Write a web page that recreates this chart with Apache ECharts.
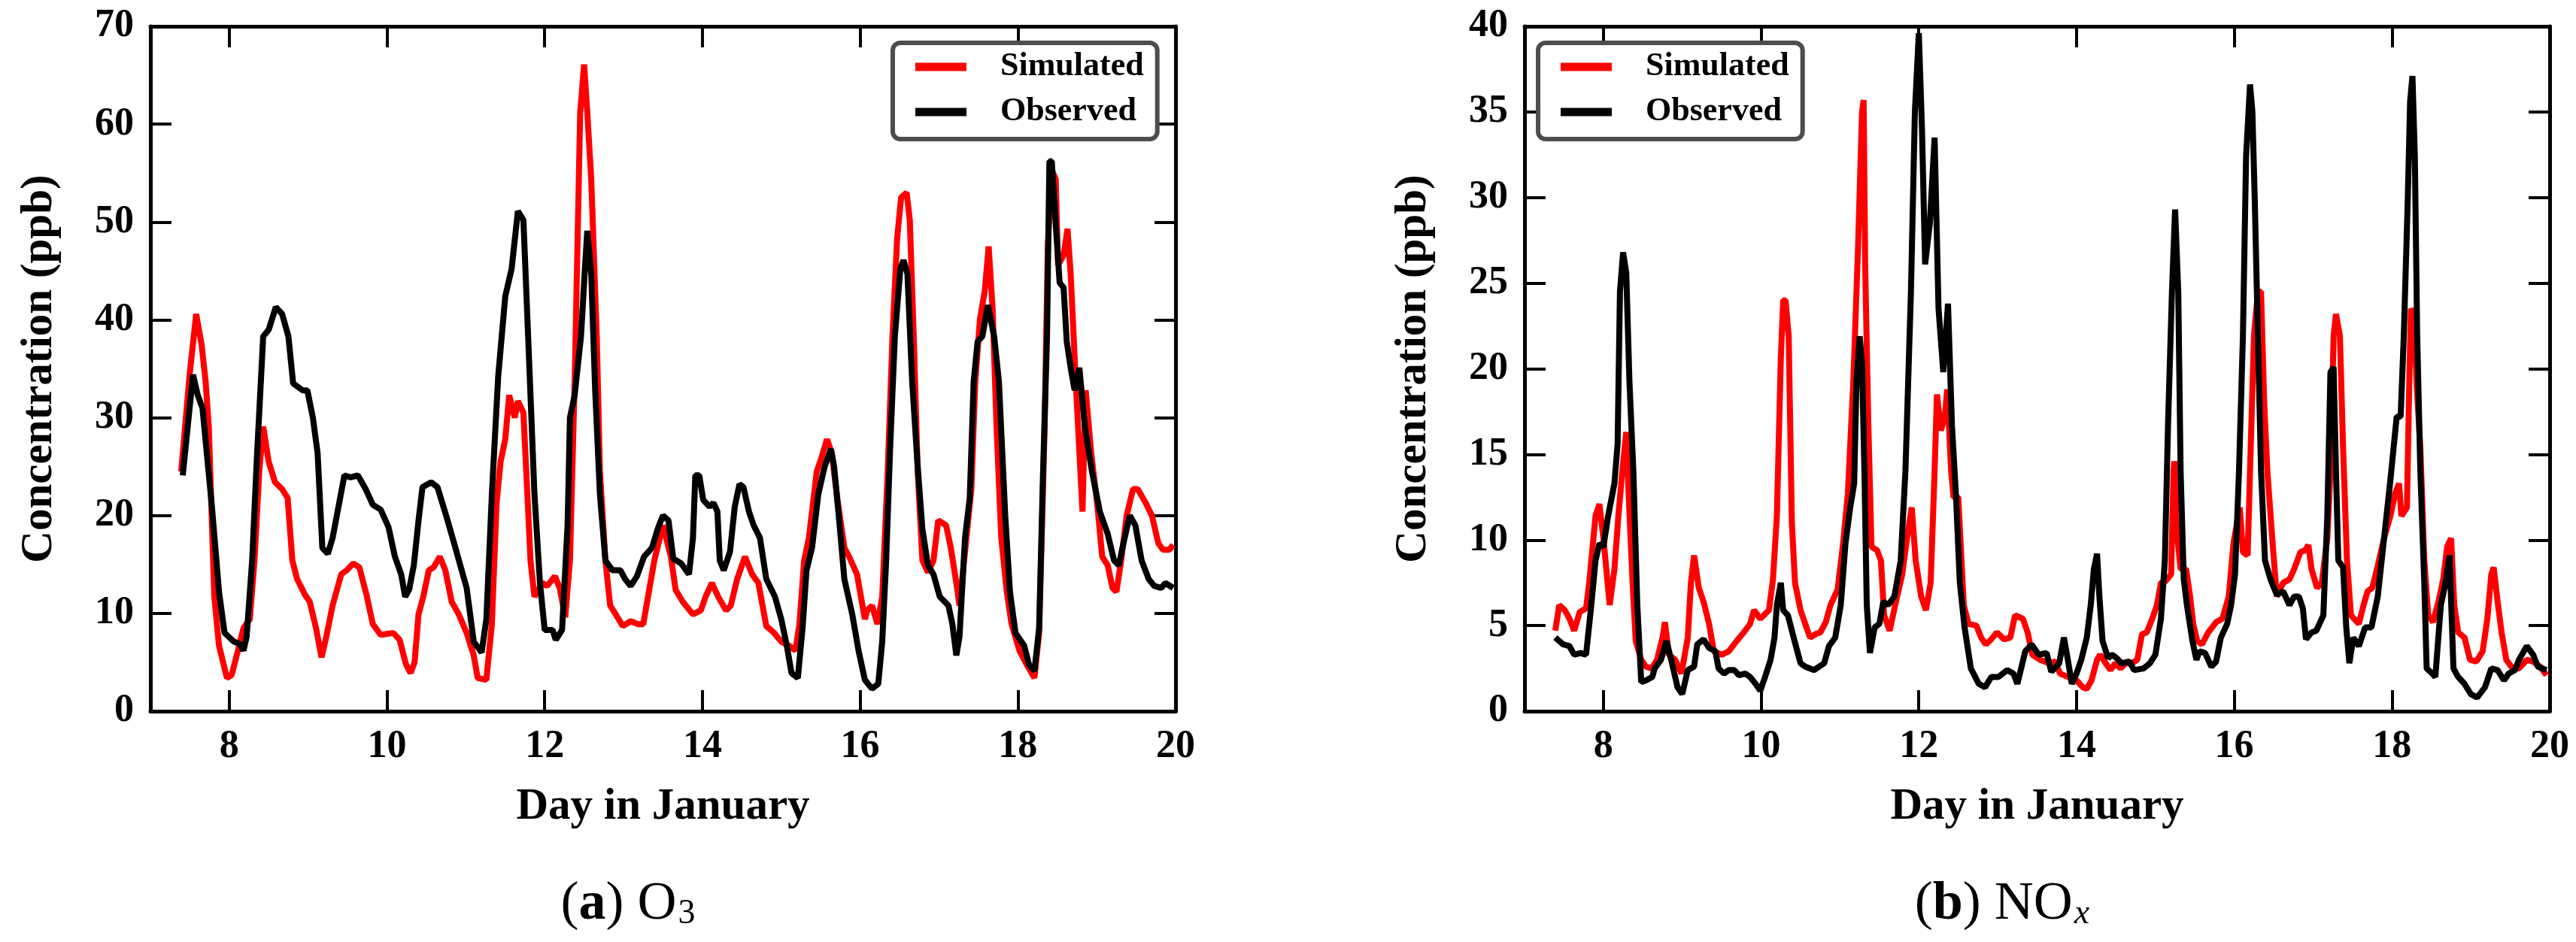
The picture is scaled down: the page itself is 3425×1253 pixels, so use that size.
<!DOCTYPE html>
<html>
<head>
<meta charset="utf-8">
<script src="https://cdn.jsdelivr.net/npm/echarts@6/dist/echarts.min.js"></script>
<style>
  html, body { margin: 0; padding: 0; background: #fff; }
  #main { width: 3425px; height: 1253px; }
</style>
</head>
<body>
<div id="main"></div>
<script>
// day in January, concentration (ppb)
var o3Sim = [[7.39,24.5],[7.50,34.6],[7.58,40.6],[7.65,37.4],[7.70,33.7],[7.74,29.1],[7.81,11.7],[7.87,6.7],[7.97,3.4],[8.03,3.7],[8.11,6.2],[8.18,8.5],[8.26,9.4],[8.32,15.4],[8.38,24.5],[8.43,29.1],[8.50,25.5],[8.58,23.4],[8.67,22.7],[8.74,21.8],[8.80,15.4],[8.86,13.5],[8.96,11.9],[9.02,11.2],[9.10,8.5],[9.17,5.5],[9.23,7.6],[9.31,10.8],[9.42,14],[9.49,14.4],[9.57,15.1],[9.65,14.7],[9.74,11.9],[9.82,8.9],[9.92,7.8],[10.08,8.0],[10.16,7.3],[10.24,4.8],[10.30,3.9],[10.35,5.0],[10.40,9.9],[10.46,11.7],[10.53,14.4],[10.59,14.7],[10.67,15.8],[10.74,14.4],[10.82,11.2],[10.91,9.9],[11.01,8.0],[11.10,5.7],[11.15,3.4],[11.26,3.2],[11.33,8.9],[11.39,21.3],[11.44,25.5],[11.50,27.8],[11.55,32.3],[11.62,30],[11.66,31.7],[11.73,30.5],[11.78,22.2],[11.82,15.4],[11.87,11.7],[11.97,13.1],[12.03,12.8],[12.13,13.8],[12.19,12.6],[12.26,9.6],[12.32,15.4],[12.38,33.7],[12.45,61.2],[12.50,66.1],[12.54,61.2],[12.59,54.4],[12.66,38.3],[12.70,24.5],[12.77,15.4],[12.83,10.8],[12.90,9.9],[12.99,8.7],[13.09,9.2],[13.18,8.9],[13.25,8.9],[13.31,11.7],[13.39,15.4],[13.50,19],[13.60,15.8],[13.66,12.4],[13.75,11.2],[13.88,9.9],[13.98,10.3],[14.04,11.7],[14.12,13.1],[14.20,11.7],[14.30,10.3],[14.36,10.8],[14.44,13.5],[14.54,15.8],[14.63,14],[14.71,13.1],[14.81,8.7],[14.91,8.0],[15.00,7.1],[15.10,6.7],[15.18,6.2],[15.23,8.9],[15.29,15.4],[15.35,17.7],[15.45,24.5],[15.51,25.9],[15.58,27.8],[15.64,26.4],[15.71,21.8],[15.80,16.7],[15.86,15.8],[15.96,14],[16.06,9.4],[16.09,10.3],[16.15,10.8],[16.22,8.9],[16.28,11.7],[16.35,24.5],[16.41,38.3],[16.47,48.4],[16.52,52.5],[16.59,53],[16.63,50.2],[16.68,38.3],[16.73,24.5],[16.79,15.4],[16.86,14.2],[16.93,15.4],[16.99,19.5],[17.09,19],[17.15,16.7],[17.22,13.1],[17.26,10.8],[17.33,16.3],[17.41,22.7],[17.46,33.7],[17.52,40.1],[17.58,42.9],[17.63,47.5],[17.68,41.1],[17.73,29.1],[17.79,17.7],[17.86,12.2],[17.92,8.9],[18.02,6.2],[18.11,4.8],[18.21,3.4],[18.27,8.0],[18.34,29.1],[18.38,47.5],[18.43,55.3],[18.48,54.4],[18.51,45.6],[18.58,46.6],[18.63,49.3],[18.67,44.7],[18.74,32.8],[18.82,20.4],[18.86,32.8],[18.93,26.4],[19.01,20.9],[19.07,15.8],[19.14,14.9],[19.20,12.6],[19.25,12.2],[19.31,15.4],[19.38,20],[19.46,22.7],[19.52,22.7],[19.62,21.3],[19.70,20],[19.78,17.2],[19.84,16.5],[19.92,16.5],[19.97,17]];

var o3Obs = [[7.41,24.1],[7.54,34.4],[7.60,32.3],[7.66,31],[7.78,20.9],[7.87,12.2],[7.94,8.0],[8.06,7.1],[8.13,6.9],[8.18,6.2],[8.22,7.6],[8.29,15.4],[8.35,25.9],[8.43,38.3],[8.50,39],[8.59,41.3],[8.67,40.6],[8.75,38.3],[8.81,33.5],[8.93,32.8],[8.99,32.8],[9.06,30],[9.12,26.4],[9.18,16.7],[9.25,16.1],[9.31,17.7],[9.46,24.1],[9.54,23.9],[9.63,24.1],[9.73,22.7],[9.82,21.1],[9.92,20.6],[10.02,18.8],[10.10,15.8],[10.18,14],[10.23,11.7],[10.28,12.4],[10.34,14.9],[10.40,19.5],[10.45,22.9],[10.56,23.4],[10.64,22.9],[10.75,20],[10.85,17.2],[10.93,14.9],[11.01,12.6],[11.10,7.1],[11.20,6.0],[11.26,9.4],[11.33,22.2],[11.41,34.2],[11.50,42.4],[11.58,45.2],[11.66,51.1],[11.73,50.2],[11.79,38.3],[11.87,22.2],[11.94,13.1],[12.00,8.3],[12.10,8.3],[12.14,7.3],[12.22,8.3],[12.29,19],[12.32,30],[12.38,32.3],[12.46,38.3],[12.51,45.2],[12.54,49.1],[12.59,44.7],[12.64,32.8],[12.70,22.2],[12.77,15.4],[12.86,14.4],[12.96,14.4],[13.02,13.5],[13.09,12.8],[13.17,13.8],[13.26,15.8],[13.36,16.7],[13.44,18.8],[13.50,20],[13.57,19.5],[13.63,15.6],[13.73,15.1],[13.83,14],[13.88,17.7],[13.91,24.1],[13.96,24.1],[14.01,21.6],[14.09,20.9],[14.14,21.3],[14.19,20.4],[14.22,15.4],[14.27,14.4],[14.35,16.3],[14.41,20.9],[14.47,23.2],[14.52,22.9],[14.59,20.4],[14.65,19],[14.73,17.7],[14.81,13.5],[14.92,11.7],[15.00,9.4],[15.07,6.7],[15.13,3.9],[15.21,3.4],[15.27,8.5],[15.32,14.4],[15.39,16.7],[15.47,22.2],[15.55,25],[15.63,26.8],[15.67,25],[15.74,19],[15.80,13.5],[15.90,9.9],[15.98,6.2],[16.06,3.2],[16.15,2.3],[16.23,2.8],[16.28,7.1],[16.33,15.4],[16.38,26.8],[16.44,38.3],[16.51,45.2],[16.55,46.1],[16.60,44.7],[16.66,33.7],[16.73,25],[16.79,18.6],[16.86,14.9],[16.93,14],[17.01,11.7],[17.12,10.8],[17.17,8.9],[17.22,5.7],[17.26,7.6],[17.33,17.7],[17.39,21.8],[17.44,33.7],[17.49,37.8],[17.55,38.3],[17.62,41.5],[17.70,38.3],[17.76,33.7],[17.84,20],[17.90,12.2],[17.97,8.0],[18.08,6.7],[18.14,4.8],[18.21,4.1],[18.27,8.5],[18.32,24.5],[18.37,38.3],[18.40,56.2],[18.43,56.2],[18.48,49.8],[18.53,43.8],[18.58,43.3],[18.62,37.8],[18.67,35.1],[18.72,32.8],[18.78,35.1],[18.85,29.1],[18.94,24.5],[19.04,20.4],[19.14,18.1],[19.22,15.4],[19.28,14.9],[19.34,17.2],[19.42,20],[19.49,19],[19.57,15.4],[19.66,13.5],[19.73,12.8],[19.82,12.6],[19.87,13.1],[19.97,12.6]];

var noxSim = [[7.39,4.7],[7.44,6.2],[7.51,5.9],[7.57,5.4],[7.63,4.7],[7.70,5.8],[7.78,6.0],[7.82,7.5],[7.90,11.4],[7.95,12.1],[8.00,10.1],[8.08,6.2],[8.14,8.3],[8.19,11.4],[8.24,14],[8.29,16.3],[8.32,12.7],[8.37,7.5],[8.41,4.1],[8.48,3.0],[8.54,2.6],[8.61,2.5],[8.68,3.0],[8.75,4.3],[8.78,5.2],[8.83,3.3],[8.91,3.0],[8.99,2.2],[9.07,4.3],[9.11,7.5],[9.15,9.1],[9.21,7.2],[9.27,6.4],[9.34,5.1],[9.40,3.5],[9.50,3.3],[9.59,3.5],[9.69,4.1],[9.78,4.6],[9.86,5.1],[9.91,5.9],[9.99,5.4],[10.10,5.9],[10.15,7.7],[10.20,11.4],[10.25,20.6],[10.28,24],[10.31,24],[10.35,21.9],[10.39,11],[10.43,7.5],[10.50,5.9],[10.56,5.1],[10.62,4.3],[10.69,4.5],[10.75,4.6],[10.82,5.2],[10.88,6.2],[10.97,7.1],[11.04,9.8],[11.10,12.7],[11.17,19.3],[11.23,27.2],[11.28,35],[11.30,35.7],[11.32,25.9],[11.36,16.7],[11.40,9.6],[11.47,9.4],[11.52,8.8],[11.56,5.6],[11.63,4.7],[11.71,6.4],[11.79,8.0],[11.85,10.1],[11.91,11.9],[11.96,8.8],[12.03,6.7],[12.09,5.9],[12.15,7.5],[12.20,14],[12.23,18.5],[12.28,16.4],[12.33,17.2],[12.36,18.8],[12.41,14],[12.44,12.5],[12.50,12.5],[12.57,6.2],[12.63,5.1],[12.73,5.0],[12.79,4.3],[12.85,3.9],[12.92,4.2],[12.99,4.6],[13.08,4.2],[13.16,4.3],[13.22,5.6],[13.32,5.4],[13.38,4.6],[13.44,3.3],[13.54,3.0],[13.65,2.8],[13.73,2.9],[13.79,2.2],[13.89,2.0],[14.00,1.8],[14.08,1.4],[14.13,1.3],[14.19,1.8],[14.26,3.0],[14.30,3.3],[14.37,2.8],[14.43,2.4],[14.49,2.8],[14.56,2.5],[14.62,2.8],[14.70,2.8],[14.77,3.0],[14.83,4.5],[14.89,4.6],[14.96,5.4],[15.02,6.2],[15.07,7.5],[15.13,7.6],[15.20,8.0],[15.23,14],[15.24,14.6],[15.28,10.1],[15.32,8.3],[15.39,8.3],[15.44,6.7],[15.48,5.1],[15.53,4.1],[15.59,3.9],[15.67,4.6],[15.77,5.2],[15.85,5.4],[15.93,6.7],[15.99,9.8],[16.07,11.9],[16.11,9.3],[16.17,9.1],[16.20,14],[16.25,21.9],[16.30,24.5],[16.34,24.5],[16.38,18],[16.42,14],[16.49,9.6],[16.54,6.7],[16.62,7.5],[16.70,7.7],[16.76,8.3],[16.84,9.3],[16.90,9.4],[16.94,9.7],[16.98,8.3],[17.05,7.2],[17.11,7.5],[17.18,10.1],[17.22,14],[17.26,21.9],[17.29,23.2],[17.34,21.9],[17.38,15.4],[17.43,8.8],[17.48,5.6],[17.58,5.1],[17.64,6.2],[17.69,7.0],[17.75,7.2],[17.82,8.5],[17.90,10.1],[17.98,11.4],[18.04,12.7],[18.09,13.3],[18.12,11.4],[18.19,11.9],[18.22,19.3],[18.24,23.5],[18.28,23.2],[18.31,19.3],[18.36,15.4],[18.41,8.8],[18.46,5.6],[18.52,5.2],[18.59,6.4],[18.65,7.7],[18.70,9.6],[18.75,10.1],[18.79,6.2],[18.84,4.6],[18.92,4.3],[18.99,3.0],[19.07,2.9],[19.15,3.5],[19.21,5.4],[19.26,8.0],[19.29,8.4],[19.34,6.4],[19.39,4.6],[19.45,3.0],[19.53,2.5],[19.61,2.5],[19.71,3.0],[19.79,2.9],[19.88,2.6],[19.96,2.1]];

var noxObs = [[7.39,4.3],[7.49,3.9],[7.57,3.8],[7.63,3.3],[7.71,3.4],[7.78,3.3],[7.84,5.9],[7.90,8.8],[7.95,9.8],[8.00,9.6],[8.06,11.4],[8.14,13.3],[8.18,15.6],[8.21,24.5],[8.25,26.8],[8.29,25.6],[8.33,19.3],[8.38,14],[8.43,6.2],[8.48,1.7],[8.54,1.8],[8.62,2.0],[8.65,2.5],[8.73,3.0],[8.80,4.1],[8.86,3.0],[8.94,1.4],[9.00,1.0],[9.07,2.4],[9.15,2.6],[9.19,3.9],[9.27,4.2],[9.34,3.7],[9.42,3.5],[9.46,2.5],[9.53,2.2],[9.59,2.4],[9.66,2.4],[9.72,2.1],[9.80,2.2],[9.86,2.0],[9.93,1.6],[9.99,1.2],[10.05,2.0],[10.12,3.0],[10.17,4.3],[10.20,6.2],[10.25,7.5],[10.28,5.9],[10.34,5.6],[10.43,4.0],[10.50,2.8],[10.56,2.6],[10.67,2.4],[10.80,2.8],[10.86,3.8],[10.94,4.3],[11.01,6.2],[11.07,9.8],[11.13,11.9],[11.18,13.3],[11.21,19.3],[11.25,21.9],[11.28,20.3],[11.31,14],[11.34,6.2],[11.38,3.4],[11.44,4.9],[11.50,5.1],[11.55,6.4],[11.61,6.2],[11.69,6.7],[11.77,8.8],[11.83,14],[11.90,24.5],[11.95,35],[12.00,39.6],[12.04,34],[12.08,26.1],[12.14,28.5],[12.20,33.5],[12.25,23.5],[12.31,19.8],[12.37,23.8],[12.42,16.7],[12.47,12.7],[12.52,7.5],[12.58,4.9],[12.66,2.5],[12.76,1.6],[12.84,1.4],[12.92,2.0],[13.01,2.0],[13.12,2.4],[13.20,2.2],[13.25,1.6],[13.35,3.5],[13.43,3.9],[13.52,3.3],[13.62,3.4],[13.68,2.3],[13.78,2.8],[13.84,4.3],[13.89,3.0],[13.94,1.6],[14.00,2.2],[14.06,3.0],[14.13,4.3],[14.18,6.2],[14.22,8.3],[14.26,9.2],[14.29,6.7],[14.33,4.1],[14.40,3.1],[14.45,3.3],[14.51,3.1],[14.57,2.8],[14.67,2.9],[14.73,2.4],[14.85,2.5],[14.93,2.8],[15.00,3.3],[15.07,5.4],[15.12,8.8],[15.16,16.7],[15.21,24.5],[15.25,29.3],[15.29,24.5],[15.32,14],[15.36,7.7],[15.40,6.2],[15.47,4.1],[15.52,3.0],[15.56,3.5],[15.63,3.4],[15.71,2.6],[15.77,2.9],[15.83,4.3],[15.91,5.1],[15.96,6.2],[16.01,8.0],[16.06,14],[16.11,21.9],[16.15,32.4],[16.20,36.6],[16.23,35],[16.26,29.9],[16.30,21.9],[16.34,14],[16.39,8.8],[16.46,7.7],[16.54,6.8],[16.62,7.0],[16.70,6.2],[16.76,6.7],[16.82,6.7],[16.87,6.0],[16.91,4.2],[16.98,4.6],[17.04,4.7],[17.13,5.6],[17.18,11.4],[17.22,19.8],[17.26,20.1],[17.29,14],[17.32,8.8],[17.38,8.4],[17.42,4.9],[17.46,2.8],[17.51,4.3],[17.58,3.8],[17.66,4.9],[17.74,4.9],[17.82,6.7],[17.90,10.1],[17.98,13.5],[18.06,17.2],[18.11,17.2],[18.15,21.9],[18.20,29.8],[18.23,35.6],[18.26,37.1],[18.29,32.4],[18.32,21.9],[18.36,14],[18.41,7.5],[18.44,2.5],[18.51,2.2],[18.55,2.0],[18.62,6.2],[18.68,7.5],[18.73,9.1],[18.78,2.5],[18.84,2.0],[18.92,1.6],[19.00,1.0],[19.08,0.8],[19.18,1.4],[19.26,2.5],[19.34,2.4],[19.42,1.8],[19.48,2.2],[19.56,2.4],[19.61,3.0],[19.71,3.8],[19.79,3.3],[19.85,2.6],[19.96,2.4]];

var dayTicks = [8, 10, 12, 14, 16, 18, 20];
var o3Range = [0, 70, 10];
var noxRange = [0, 40, 5];
var legendNames = ['Simulated', 'Observed'];
var seriesColors = ['#ff0000', '#000000'];

var serifBold = "'Liberation Serif', 'DejaVu Serif', serif";

function xAxisPair(grid) {
    var base = {
        gridIndex: grid,
        type: 'value',
        min: 7,
        max: 20,
        splitLine: {show: false},
        axisLine: {onZero: false, lineStyle: {color: '#000', width: 5}},
        axisTick: {inside: true, length: 28, lineStyle: {color: '#000', width: 4}, customValues: dayTicks}
    };
    var bottom = echarts.util.merge({
        position: 'bottom',
        name: 'Day in January',
        nameLocation: 'middle',
        nameGap: 98,
        nameTextStyle: {fontFamily: serifBold, fontWeight: 'bold', fontSize: 59, color: '#000'},
        axisLabel: {customValues: dayTicks, margin: 22, fontFamily: serifBold, fontWeight: 'bold', fontSize: 52, color: '#000'}
    }, base, true);
    var top = echarts.util.merge({position: 'top', axisLabel: {show: false}}, echarts.util.clone(base), true);
    return [bottom, top];
}

function yAxisPair(grid, range) {
    var base = {
        gridIndex: grid,
        type: 'value',
        min: range[0],
        max: range[1],
        interval: range[2],
        splitLine: {show: false},
        axisLine: {show: true, onZero: false, lineStyle: {color: '#000', width: 5}},
        axisTick: {show: true, inside: true, length: 28, lineStyle: {color: '#000', width: 4}}
    };
    var left = echarts.util.merge({
        position: 'left',
        name: 'Concentration (ppb)',
        nameLocation: 'middle',
        nameGap: 118,
        nameTextStyle: {fontFamily: serifBold, fontWeight: 'bold', fontSize: 59, color: '#000'},
        axisLabel: {margin: 22, fontFamily: serifBold, fontWeight: 'bold', fontSize: 52, color: '#000'}
    }, base, true);
    var right = echarts.util.merge({position: 'right', axisLabel: {show: false}}, echarts.util.clone(base), true);
    return [left, right];
}

function makeLegend(left) {
    return {
        data: legendNames,
        orient: 'vertical',
        left: left,
        top: 57,
        icon: 'rect',
        itemWidth: 68,
        itemHeight: 11,
        itemGap: 16,
        padding: [10, 18, 14, 30],
        borderColor: '#4d4d4d',
        borderWidth: 6,
        borderRadius: 10,
        backgroundColor: '#fff',
        textStyle: {fontFamily: serifBold, fontWeight: 'bold', fontSize: 44, color: '#000', padding: [0, 0, 0, 40], lineHeight: 44}
    };
}

function lineSeries(name, data, xi, yi, color) {
    return {
        name: name,
        type: 'line',
        xAxisIndex: xi,
        yAxisIndex: yi,
        data: data,
        symbol: 'none',
        showSymbol: false,
        animation: false,
        color: color,
        lineStyle: {color: color, width: 8}
    };
}

function caption(x, letter, body, sub, italicSub) {
    return {
        type: 'text',
        x: x,
        y: 1203,
        style: {
            text: '{p|(}{b|' + letter + '}{p|) ' + body + '}{s|' + sub + '}',
            align: 'center',
            verticalAlign: 'middle',
            rich: {
                p: {fontFamily: "'Liberation Serif', serif", fontSize: 72, fill: '#000'},
                b: {fontFamily: "'Liberation Serif', serif", fontSize: 72, fontWeight: 'bold', fill: '#000'},
                s: {fontFamily: "'Liberation Serif', serif", fontSize: 46, fontStyle: italicSub ? 'italic' : 'normal', fill: '#000', padding: [26, 0, 0, 2]}
            }
        }
    };
}

var xa = xAxisPair(0), xb = xAxisPair(1);
var ya = yAxisPair(0, o3Range), yb = yAxisPair(1, noxRange);

var option = {
    backgroundColor: '#fff',
    animation: false,
    grid: [
        {left: 200, top: 35, width: 1363, height: 911},
        {left: 2027, top: 35, width: 1363, height: 911}
    ],
    xAxis: [xa[0], xa[1], xb[0], xb[1]],
    yAxis: [ya[0], ya[1], yb[0], yb[1]],
    legend: [makeLegend(1187), makeLegend(2045)],
    series: [
        lineSeries('Simulated', o3Sim, 0, 0, seriesColors[0]),
        lineSeries('Observed', o3Obs, 0, 0, seriesColors[1]),
        lineSeries('Simulated', noxSim, 2, 2, seriesColors[0]),
        lineSeries('Observed', noxObs, 2, 2, seriesColors[1])
    ],
    graphic: [
        caption(835, 'a', 'O', '3', false),
        caption(2662, 'b', 'NO', 'x', true)
    ]
};

var chart = echarts.init(document.getElementById('main'));
chart.setOption(option);
</script>
</body>
</html>
